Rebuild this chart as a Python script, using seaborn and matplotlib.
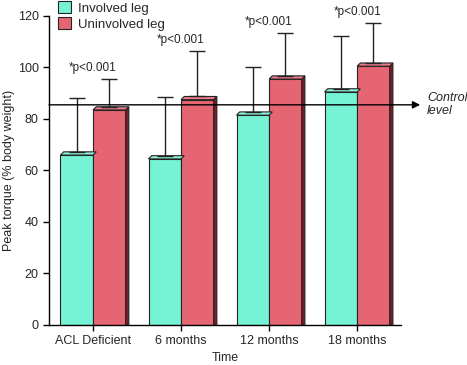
import pandas as pd
import matplotlib.pyplot as plt
import seaborn as sns
from matplotlib.patches import Polygon, Patch

# data
times = ['ACL Deficient', '6 months', '12 months', '18 months']
involved = [66, 64.5, 81.5, 90.5]
uninvolved = [83.5, 87.5, 95.5, 100.5]
involved_sd = [22, 24.2, 18.7, 21.7]
uninvolved_sd = [12.2, 19, 17.9, 16.8]
control_level = 85.5
p_labels = ['*p<0.001', '*p<0.001', '*p<0.001', '*p<0.001']

df = pd.DataFrame({
    'Time': times * 2,
    'torque': involved + uninvolved,
    'sd': involved_sd + uninvolved_sd,
    'leg': ['Involved leg'] * 4 + ['Uninvolved leg'] * 4,
})

face = {'Involved leg': '#76f2d4', 'Uninvolved leg': '#e56672'}
top_face = {'Involved leg': '#8ff5dc', 'Uninvolved leg': '#ea7c88'}
side_face = {'Involved leg': '#3f9e88', 'Uninvolved leg': '#7a1b2a'}

sns.set_style('ticks')
plt.rcParams['font.family'] = ['Liberation Sans', 'DejaVu Sans']

fig = plt.figure(figsize=(4.67, 3.65), dpi=100)
ax = fig.add_axes([0.105, 0.1096, 0.754, 0.8466])

sns.barplot(data=df, x='Time', y='torque', hue='leg', order=times,
            hue_order=['Involved leg', 'Uninvolved leg'],
            palette=face, saturation=1, width=0.74, errorbar=None,
            edgecolor='#222222', linewidth=0.8, legend=False, ax=ax)

ax.set_xlim(-0.5, 3.5)
ax.set_ylim(0, 120)

# 3d look: top and side faces, plus upper error bars
dx = 3.2 * 4 / 352
dy = 3.2 * 120 / 309
bars = sorted(ax.patches, key=lambda p: p.get_x())
legs = ['Involved leg', 'Uninvolved leg'] * 4
sds = [v for pair in zip(involved_sd, uninvolved_sd) for v in pair]
for bar, leg, sd in zip(bars, legs, sds):
    x, w, h = bar.get_x(), bar.get_width(), bar.get_height()
    top = Polygon([(x, h), (x + dx, h + dy), (x + w + dx, h + dy), (x + w, h)],
                  closed=True, facecolor=top_face[leg], edgecolor='#222222',
                  linewidth=0.8, zorder=bar.get_zorder())
    side = Polygon([(x + w, 0), (x + w, h), (x + w + dx, h + dy), (x + w + dx, 0)],
                   closed=True, facecolor=side_face[leg], edgecolor='#222222',
                   linewidth=0.8, zorder=bar.get_zorder() - 0.1 if leg == 'Involved leg' else bar.get_zorder())
    ax.add_patch(side)
    ax.add_patch(top)
    ax.errorbar(x + w / 2, h + dy, yerr=[[0], [sd - dy]], fmt='none',
                ecolor='#222222', elinewidth=1, capsize=5.8, capthick=1, zorder=1)

# control level arrow
ax.annotate('', xy=(1.054, control_level), xycoords=('axes fraction', 'data'),
            xytext=(0, control_level), textcoords=('axes fraction', 'data'),
            arrowprops=dict(arrowstyle='-|>', color='black', lw=1.0,
                            mutation_scale=11, shrinkA=0, shrinkB=0),
            annotation_clip=False, zorder=5)
ax.text(1.074, control_level, 'Control\nlevel', transform=ax.get_yaxis_transform(),
        ha='left', va='center', fontsize=9, style='italic', linespacing=1.1)

# significance labels
for i, lab in enumerate(p_labels):
    ytop = max(involved[i] + involved_sd[i], uninvolved[i] + uninvolved_sd[i])
    ax.text(i, ytop + 4.2, lab, ha='center', va='center', fontsize=8.5, clip_on=False)

handles = [Patch(facecolor=face[k], edgecolor='#222222', linewidth=0.8) for k in face]
ax.legend(handles, list(face.keys()), loc='upper left', bbox_to_anchor=(0.0, 1.078),
          frameon=False, fontsize=9.5, handlelength=1.0, handleheight=1.0,
          handletextpad=0.5, labelspacing=0.2, borderaxespad=0.3)

sns.despine(ax=ax)
ax.set_yticks(range(0, 121, 20))
ax.tick_params(axis='both', labelsize=9, length=4, width=1, color='black')
for s in ['left', 'bottom']:
    ax.spines[s].set_color('black')
    ax.spines[s].set_linewidth(1)
ax.set_xlabel('Time', fontsize=9, labelpad=3)
ax.set_ylabel('Peak torque (% body weight)', fontsize=9, labelpad=2)

plt.savefig('out.png', dpi=100)
